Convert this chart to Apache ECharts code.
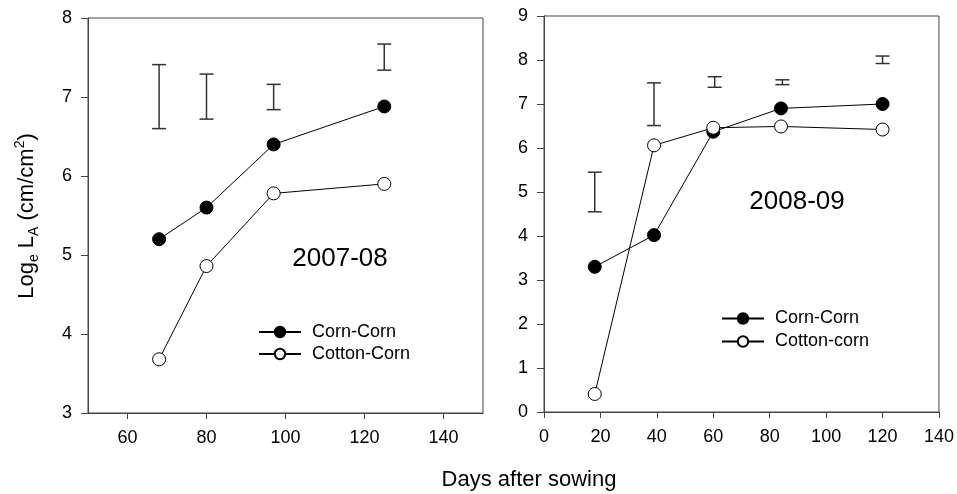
<!DOCTYPE html>
<html><head><meta charset="utf-8">
<script src="https://cdn.jsdelivr.net/npm/echarts@6/dist/echarts.min.js"></script>
<style>html,body{margin:0;padding:0;background:#fff}#c{width:957px;height:494px}</style>
</head><body><div id="c"></div>
<script>
// ---- Panel 1 (2007-08) ----
const days1 = [68, 80, 97, 125];
const cornCorn1 = [5.2, 5.6, 6.4, 6.88];
const cottonCorn1 = [3.68, 4.86, 5.78, 5.9];
const errDays1 = [68, 80, 97, 125];
const errLow1 = [6.6, 6.72, 6.84, 7.34];
const errHigh1 = [7.41, 7.29, 7.16, 7.67];
const xTicks1 = [60, 80, 100, 120, 140];

// ---- Panel 2 (2008-09) ----
const days2 = [18, 39, 60, 84, 120];
const cornCorn2 = [3.3, 4.02, 6.37, 6.9, 7.0];
const cottonCorn2 = [0.41, 6.06, 6.46, 6.49, 6.42];
const errDays2 = [18, 39, 60.5, 84.5, 120];
const errLow2 = [4.55, 6.51, 7.38, 7.44, 7.92];
const errHigh2 = [5.45, 7.48, 7.62, 7.55, 8.09];

const legend1 = ['Corn-Corn', 'Cotton-Corn'];
const legend2 = ['Corn-Corn', 'Cotton-corn'];

const FONT = 'Liberation Sans, Arial, sans-serif';
const AX = '#444';

function pairs(xs, ys) { return xs.map((x, i) => [x, ys[i]]); }
function errData(xs, lo, hi) { return xs.map((x, i) => [x, lo[i], hi[i]]); }

function errRender(params, api) {
  const x = api.value(0), lo = api.value(1), hi = api.value(2);
  const a = api.coord([x, lo]), b = api.coord([x, hi]);
  const w = 7;
  const st = { stroke: '#333', lineWidth: 1.5, fill: null };
  return { type: 'group', children: [
    { type: 'line', shape: { x1: a[0], y1: a[1], x2: b[0], y2: b[1] }, style: st },
    { type: 'line', shape: { x1: a[0] - w, y1: a[1], x2: a[0] + w, y2: a[1] }, style: st },
    { type: 'line', shape: { x1: b[0] - w, y1: b[1], x2: b[0] + w, y2: b[1] }, style: st }
  ]};
}

function axisCommon() {
  return {
    axisLine: { show: true, onZero: false, lineStyle: { color: AX, width: 1 } },
    axisTick: { show: true, inside: false, length: 7, lineStyle: { color: AX, width: 1 } },
    axisLabel: { color: '#000', fontSize: 18, fontFamily: FONT, margin: 16 },
    splitLine: { show: false }
  };
}

const lineStyle = { color: '#000', width: 1 };
function filled(name, data, xi, yi) {
  return { type: 'line', name, xAxisIndex: xi, yAxisIndex: yi, data,
    symbol: 'circle', symbolSize: 13, lineStyle, color: '#000',
    itemStyle: { color: '#000', borderColor: '#000', borderWidth: 1 }, z: 3 };
}
function open(name, data, xi, yi) {
  return { type: 'line', name, xAxisIndex: xi, yAxisIndex: yi, data,
    symbol: 'circle', symbolSize: 13, lineStyle, color: '#000',
    itemStyle: { color: '#fff', borderColor: '#000', borderWidth: 1 }, z: 4 };
}

const legendBase = {
  orient: 'vertical', itemWidth: 42, itemHeight: 13, itemGap: 0, padding: 0,
  selectedMode: false,
  textStyle: { fontSize: 18, fontFamily: FONT, color: '#000', lineHeight: 22, padding: [0, 0, 0, 6] }
};

const chart = echarts.init(document.getElementById('c'));
chart.setOption({
  animation: false,
  backgroundColor: '#fff',
  grid: [
    { left: 88, top: 18, width: 395, height: 395, show: true, borderColor: AX, borderWidth: 1, backgroundColor: 'transparent' },
    { left: 544, top: 16, width: 395, height: 396, show: true, borderColor: AX, borderWidth: 1, backgroundColor: 'transparent' }
  ],
  xAxis: [
    Object.assign(axisCommon(), { type: 'value', gridIndex: 0, min: 50, max: 150,
      axisTick: { show: true, length: 6, lineStyle: { color: AX }, customValues: xTicks1 },
      axisLabel: { color: '#000', fontSize: 18, fontFamily: FONT, margin: 16, customValues: xTicks1 } }),
    Object.assign(axisCommon(), { type: 'value', gridIndex: 1, min: 0, max: 140, interval: 20,
      axisTick: { show: true, length: 6, lineStyle: { color: AX } } })
  ],
  yAxis: [
    Object.assign(axisCommon(), { type: 'value', gridIndex: 0, min: 3, max: 8, interval: 1 }),
    Object.assign(axisCommon(), { type: 'value', gridIndex: 1, min: 0, max: 9, interval: 1 })
  ],
  legend: [
    Object.assign({}, legendBase, { data: legend1, left: 258, top: 321 }),
    Object.assign({}, legendBase, { data: legend2, left: 721, top: 307,
      textStyle: Object.assign({}, legendBase.textStyle, { lineHeight: 23 }) })
  ],
  series: [
    { type: 'custom', xAxisIndex: 0, yAxisIndex: 0, renderItem: errRender,
      data: errData(errDays1, errLow1, errHigh1), encode: { x: 0, y: [1, 2] }, z: 2 },
    filled('Corn-Corn', pairs(days1, cornCorn1), 0, 0),
    open('Cotton-Corn', pairs(days1, cottonCorn1), 0, 0),
    { type: 'custom', xAxisIndex: 1, yAxisIndex: 1, renderItem: errRender,
      data: errData(errDays2, errLow2, errHigh2), encode: { x: 0, y: [1, 2] }, z: 2 },
    filled('Corn-Corn', pairs(days2, cornCorn2), 1, 1),
    open('Cotton-corn', pairs(days2, cottonCorn2), 1, 1)
  ],
  graphic: [
    { type: 'text', x: 340, y: 259, style: { text: '2007-08', fontSize: 26, fontFamily: FONT, fill: '#000',
      align: 'center', verticalAlign: 'middle', textAlign: 'center', textVerticalAlign: 'middle' } },
    { type: 'text', x: 797, y: 202, style: { text: '2008-09', fontSize: 26, fontFamily: FONT, fill: '#000',
      align: 'center', verticalAlign: 'middle', textAlign: 'center', textVerticalAlign: 'middle' } },
    { type: 'text', x: 529, y: 480, style: { text: 'Days after sowing', fontSize: 22, fontFamily: FONT, fill: '#000',
      align: 'center', verticalAlign: 'middle', textAlign: 'center', textVerticalAlign: 'middle' } },
    { type: 'text', x: 27, y: 216, rotation: Math.PI / 2, style: {
      text: '{a|Log}{s|e}{a| L}{s|A}{a| (cm/cm}{p|2}{a|)}',
      fill: '#000', align: 'center', verticalAlign: 'middle', textAlign: 'center', textVerticalAlign: 'middle',
      rich: {
        a: { fontSize: 22, fontFamily: FONT, fill: '#000', lineHeight: 28 },
        s: { fontSize: 14, fontFamily: FONT, fill: '#000', lineHeight: 14, verticalAlign: 'bottom' },
        p: { fontSize: 14, fontFamily: FONT, fill: '#000', lineHeight: 14, verticalAlign: 'top' }
      } } }
  ]
});
</script></body></html>
